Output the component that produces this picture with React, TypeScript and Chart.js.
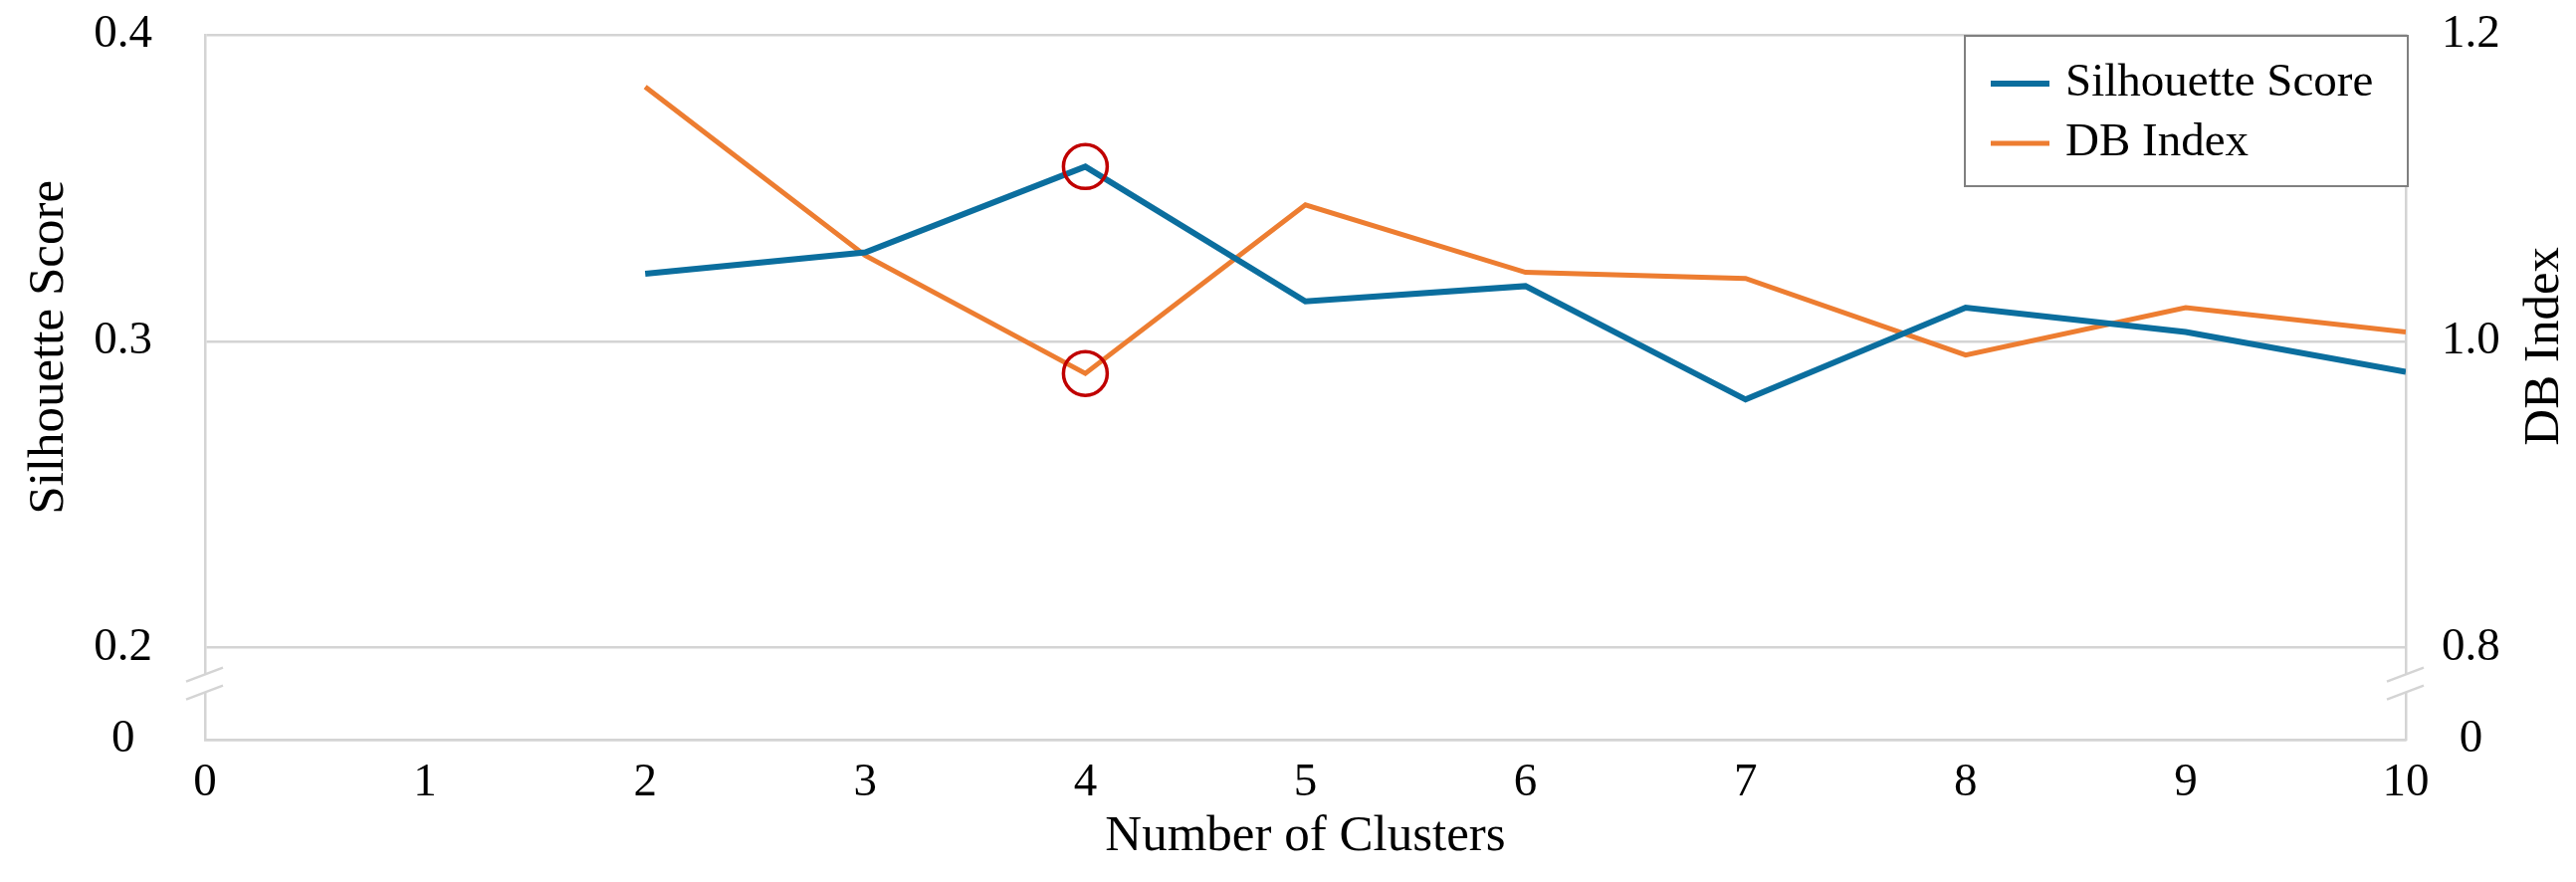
import React, { useEffect, useRef } from "react";
import { Chart, registerables } from "chart.js";

Chart.register(...registerables);

// ---------- data ----------
const clusters = [2, 3, 4, 5, 6, 7, 8, 9, 10];
const silhouette = [0.322, 0.329, 0.357, 0.313, 0.318, 0.281, 0.311, 0.303, 0.29];
const dbIndex = [1.166, 1.056, 0.979, 1.089, 1.045, 1.041, 0.991, 1.022, 1.006];
const highlightK = 4;

const xTicks = [0, 1, 2, 3, 4, 5, 6, 7, 8, 9, 10];
const leftTicks = [0.2, 0.3, 0.4];
const rightTicks = [0.8, 1.0, 1.2];
// broken axes: the "0" label sits just below the visible range
const leftZeroAt = 0.17;
const rightZeroAt = 0.74;

const seriesLabels = ["Silhouette Score", "DB Index"];
const xTitle = "Number of Clusters";
const yLeftTitle = "Silhouette Score";
const yRightTitle = "DB Index";

// ---------- styles ----------
const FONT = "'Liberation Serif', 'Times New Roman', Times, serif";
const BLUE = "#0B6E9E";
const ORANGE = "#ED7D31";
const RED = "#C00000";
const GRID = "#D4D4D4";
const TICK_SIZE = 47;
const LEGEND_SIZE = 47;
const TITLE_SIZE = 51;

const near = (a: number, b: number) => Math.abs(a - b) < 1e-9;

const decorPlugin = {
  id: "decor",
  afterDraw(chart: any) {
    const { ctx, chartArea: ca, scales } = chart;
    const yL = scales.yL;
    const yR = scales.yR;
    ctx.save();

    // axis break marks
    const drawBreak = (x: number, scale: any, low: number) => {
      const p = scale.getPixelForValue(low);
      const y1 = p + 27;
      const y2 = p + 45;
      ctx.fillStyle = "#ffffff";
      ctx.fillRect(x - 4, y1, 8, y2 - y1);
      ctx.strokeStyle = GRID;
      ctx.lineWidth = 2.5;
      for (const yc of [y1, y2]) {
        ctx.beginPath();
        ctx.moveTo(x - 19, yc + 7);
        ctx.lineTo(x + 18, yc - 7);
        ctx.stroke();
      }
    };
    drawBreak(ca.left, yL, leftTicks[0]);
    drawBreak(ca.right, yR, rightTicks[0]);

    // legend box
    const bw = 445;
    const bh = 151;
    const bx = ca.right + 2 - bw;
    const by = ca.top + 1;
    ctx.fillStyle = "#ffffff";
    ctx.fillRect(bx, by, bw, bh);
    ctx.strokeStyle = "#808080";
    ctx.lineWidth = 2;
    ctx.strokeRect(bx, by, bw, bh);
    chart.data.datasets.forEach((ds: any, i: number) => {
      const yc = by + 48 + i * 60;
      ctx.strokeStyle = ds.borderColor;
      ctx.lineWidth = ds.borderWidth;
      ctx.beginPath();
      ctx.moveTo(bx + 26, yc);
      ctx.lineTo(bx + 85, yc);
      ctx.stroke();
      ctx.fillStyle = "#000000";
      ctx.font = `${LEGEND_SIZE}px ${FONT}`;
      ctx.textAlign = "left";
      ctx.textBaseline = "middle";
      ctx.fillText(ds.label, bx + 101, yc);
    });

    // axis titles
    ctx.fillStyle = "#000000";
    ctx.font = `${TITLE_SIZE}px ${FONT}`;
    ctx.textAlign = "center";
    ctx.textBaseline = "alphabetic";
    const midL =
      (yL.getPixelForValue(leftTicks[0]) + yL.getPixelForValue(leftTicks[leftTicks.length - 1])) / 2 + 6;
    const midR =
      (yR.getPixelForValue(rightTicks[0]) + yR.getPixelForValue(rightTicks[rightTicks.length - 1])) / 2 + 5;
    ctx.save();
    ctx.translate(yL.left + 63, midL);
    ctx.rotate(-Math.PI / 2);
    ctx.fillText(yLeftTitle, 0, 0);
    ctx.restore();
    ctx.save();
    ctx.translate(yR.right - 18, midR);
    ctx.rotate(-Math.PI / 2);
    ctx.fillText(yRightTitle, 0, 0);
    ctx.restore();
    ctx.fillText(xTitle, (ca.left + ca.right) / 2, chart.height - 32);

    ctx.restore();
  },
};

export default function App() {
  const canvasRef = useRef<HTMLCanvasElement | null>(null);

  useEffect(() => {
    if (!canvasRef.current) return;
    const tickFont = { family: FONT, size: TICK_SIZE };
    const pointR = (c: any) => (clusters[c.dataIndex] === highlightK ? 22 : 0);

    const chart = new Chart(canvasRef.current, {
      type: "line",
      data: {
        datasets: [
          {
            label: seriesLabels[0],
            data: clusters.map((k, i) => ({ x: k, y: silhouette[i] })),
            yAxisID: "yL",
            borderColor: BLUE,
            backgroundColor: BLUE,
            borderWidth: 6,
            tension: 0,
            fill: false,
            pointRadius: pointR,
            pointHoverRadius: pointR,
            pointBorderColor: RED,
            pointBackgroundColor: "rgba(0,0,0,0)",
            pointBorderWidth: 3.5,
          },
          {
            label: seriesLabels[1],
            data: clusters.map((k, i) => ({ x: k, y: dbIndex[i] })),
            yAxisID: "yR",
            borderColor: ORANGE,
            backgroundColor: ORANGE,
            borderWidth: 5,
            tension: 0,
            fill: false,
            pointRadius: pointR,
            pointHoverRadius: pointR,
            pointBorderColor: RED,
            pointBackgroundColor: "rgba(0,0,0,0)",
            pointBorderWidth: 3.5,
          },
        ],
      },
      options: {
        animation: false,
        responsive: true,
        maintainAspectRatio: false,
        events: [],
        layout: { padding: { top: 35, left: 0, right: 0, bottom: 0 } },
        plugins: {
          legend: { display: false },
          tooltip: { enabled: false },
        },
        scales: {
          x: {
            type: "linear",
            min: 0,
            max: 10,
            afterBuildTicks: (s: any) => {
              s.ticks = xTicks.map((v) => ({ value: v }));
            },
            afterFit: (s: any) => {
              s.height = 143;
              s.paddingLeft = 0;
              s.paddingRight = 0;
            },
            ticks: {
              font: tickFont,
              color: "#000000",
              padding: 15,
              maxRotation: 0,
              autoSkip: false,
              callback: (v: any) => String(v),
            },
            grid: { display: false, drawTicks: false },
            border: { display: true, color: GRID, width: 2.5 },
          },
          yL: {
            type: "linear",
            position: "left",
            min: leftZeroAt,
            max: leftTicks[leftTicks.length - 1],
            afterBuildTicks: (s: any) => {
              s.ticks = [leftZeroAt, ...leftTicks].map((v) => ({ value: v }));
            },
            afterFit: (s: any) => {
              s.width = 206;
              s.paddingTop = 0;
              s.paddingBottom = 0;
            },
            ticks: {
              font: tickFont,
              color: "#000000",
              padding: 53,
              crossAlign: "center",
              callback: (v: any) => (near(Number(v), leftZeroAt) ? "0" : Number(v).toFixed(1)),
            },
            grid: { color: GRID, lineWidth: 2.5, drawTicks: false },
            border: { display: true, color: GRID, width: 2.5 },
          },
          yR: {
            type: "linear",
            position: "right",
            min: rightZeroAt,
            max: rightTicks[rightTicks.length - 1],
            afterBuildTicks: (s: any) => {
              s.ticks = [rightZeroAt, ...rightTicks].map((v) => ({ value: v }));
            },
            afterFit: (s: any) => {
              s.width = 171;
              s.paddingTop = 0;
              s.paddingBottom = 0;
            },
            ticks: {
              font: tickFont,
              color: "#000000",
              padding: 36,
              crossAlign: "center",
              callback: (v: any) => (near(Number(v), rightZeroAt) ? "0" : Number(v).toFixed(1)),
            },
            grid: { display: false, drawTicks: false },
            border: { display: true, color: GRID, width: 2.5 },
          },
        },
      } as any,
      plugins: [decorPlugin as any],
    });

    return () => chart.destroy();
  }, []);

  return (
    <div
      style={{
        position: "absolute",
        left: 0,
        top: 0,
        width: 2588,
        height: 886,
        background: "#ffffff",
      }}
    >
      <canvas ref={canvasRef} />
    </div>
  );
}
